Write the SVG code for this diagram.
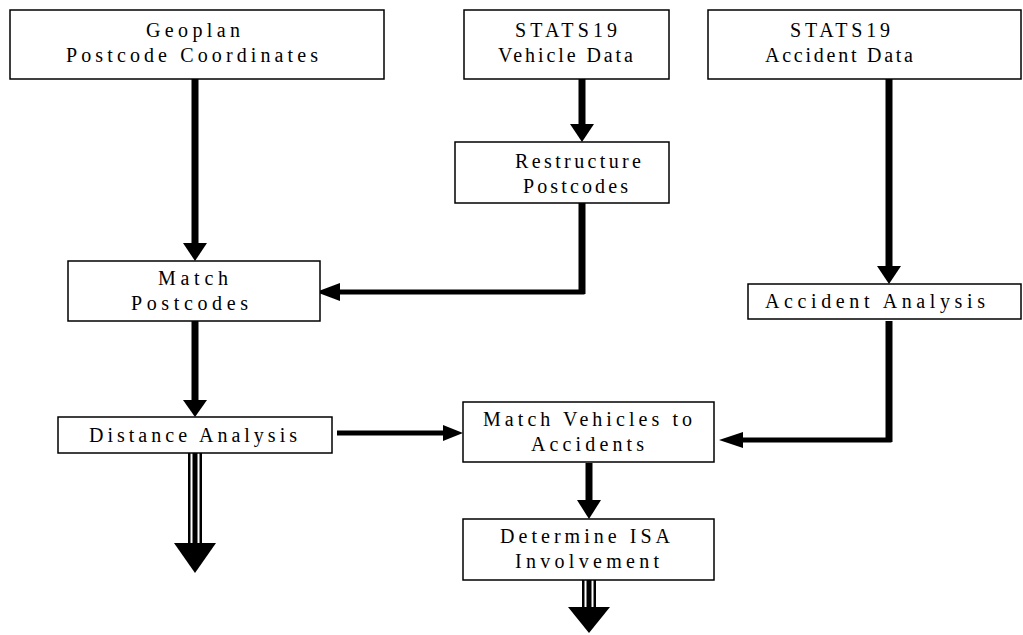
<svg xmlns="http://www.w3.org/2000/svg" width="1023" height="635" viewBox="0 0 1023 635">
<style>
.box{fill:#fff;stroke:#000;stroke-width:1.5}
.t{font-family:"Liberation Serif","Times New Roman",serif;font-size:20px;fill:#000}
.v{stroke:#000;stroke-width:7;fill:none}
.h{stroke:#000;stroke-width:5;fill:none}
.head{fill:#000}
</style>
<rect width="1023" height="635" fill="#fff"/>
<g id="connectors">
<line class="v" x1="195" y1="79" x2="195" y2="245"/>
<polygon class="head" points="183,243 207,243 195,261"/>
<line class="v" x1="582" y1="79" x2="582" y2="126"/>
<polygon class="head" points="570,124 594,124 582,142"/>
<polyline class="h" points="582,203 582,292 338,292"/>
<line class="v" x1="582" y1="203" x2="582" y2="294"/>
<polygon class="head" points="340,283 340,301 316,292"/>
<line class="v" x1="889" y1="79" x2="889" y2="268"/>
<polygon class="head" points="877,266 901,266 889,284"/>
<polyline class="h" points="889,321 889,440 741,440"/>
<line class="v" x1="889" y1="321" x2="889" y2="442"/>
<polygon class="head" points="743,432 743,448 719,440"/>
<line class="v" x1="195" y1="321" x2="195" y2="402"/>
<polygon class="head" points="183,400 207,400 195,417"/>
<line class="h" x1="337" y1="433" x2="445" y2="433"/>
<polygon class="head" points="443,425 443,441 463,433"/>
<line class="v" x1="589" y1="463" x2="589" y2="502"/>
<polygon class="head" points="577,500 601,500 589,519"/>
<rect x="188" y="448" width="14" height="97" fill="#000"/>
<rect x="190.5" y="448" width="2" height="95" fill="#fff"/>
<rect x="197.5" y="448" width="2" height="95" fill="#fff"/>
<polygon class="head" points="174,543 216,543 195,573"/>
<rect x="582" y="573" width="14" height="36" fill="#000"/>
<rect x="584.5" y="573" width="2" height="34" fill="#fff"/>
<rect x="591.5" y="573" width="2" height="34" fill="#fff"/>
<polygon class="head" points="568,607 610,607 589,633"/>
</g>
<g id="geoplan">
<rect class="box" x="10" y="10" width="374" height="69"/>
<text class="t" x="146" y="37" textLength="94" lengthAdjust="spacing">Geoplan</text>
<text class="t" x="66" y="62" textLength="252" lengthAdjust="spacing">Postcode Coordinates</text>
</g>
<g id="vehicle">
<rect class="box" x="464" y="10" width="205" height="69"/>
<text class="t" x="515" y="37" textLength="102" lengthAdjust="spacing">STATS19</text>
<text class="t" x="498" y="62" textLength="135" lengthAdjust="spacing">Vehicle Data</text>
</g>
<g id="accidentdata">
<rect class="box" x="708" y="10" width="313" height="69"/>
<text class="t" x="790" y="37" textLength="100" lengthAdjust="spacing">STATS19</text>
<text class="t" x="765" y="62" textLength="148" lengthAdjust="spacing">Accident Data</text>
</g>
<g id="restructure">
<rect class="box" x="455" y="142" width="214" height="61"/>
<text class="t" x="515" y="168" textLength="126" lengthAdjust="spacing">Restructure</text>
<text class="t" x="523" y="193" textLength="105" lengthAdjust="spacing">Postcodes</text>
</g>
<g id="matchpostcodes">
<rect class="box" x="68" y="261" width="252" height="60"/>
<text class="t" x="158" y="285" textLength="70" lengthAdjust="spacing">Match</text>
<text class="t" x="131" y="310" textLength="117" lengthAdjust="spacing">Postcodes</text>
</g>
<g id="accidentanalysis">
<rect class="box" x="748" y="284" width="273" height="35"/>
<text class="t" x="765" y="308" textLength="220" lengthAdjust="spacing">Accident Analysis</text>
</g>
<g id="distance">
<rect class="box" x="58" y="417" width="274" height="36"/>
<text class="t" x="89" y="442" textLength="208" lengthAdjust="spacing">Distance Analysis</text>
</g>
<g id="matchvehicles">
<rect class="box" x="463" y="402" width="251" height="60"/>
<text class="t" x="483" y="426" textLength="209" lengthAdjust="spacing">Match Vehicles to</text>
<text class="t" x="531" y="451" textLength="113" lengthAdjust="spacing">Accidents</text>
</g>
<g id="determine">
<rect class="box" x="463" y="519" width="251" height="61"/>
<text class="t" x="500" y="543" textLength="170" lengthAdjust="spacing">Determine ISA</text>
<text class="t" x="515" y="568" textLength="144" lengthAdjust="spacing">Involvement</text>
</g>
</svg>
